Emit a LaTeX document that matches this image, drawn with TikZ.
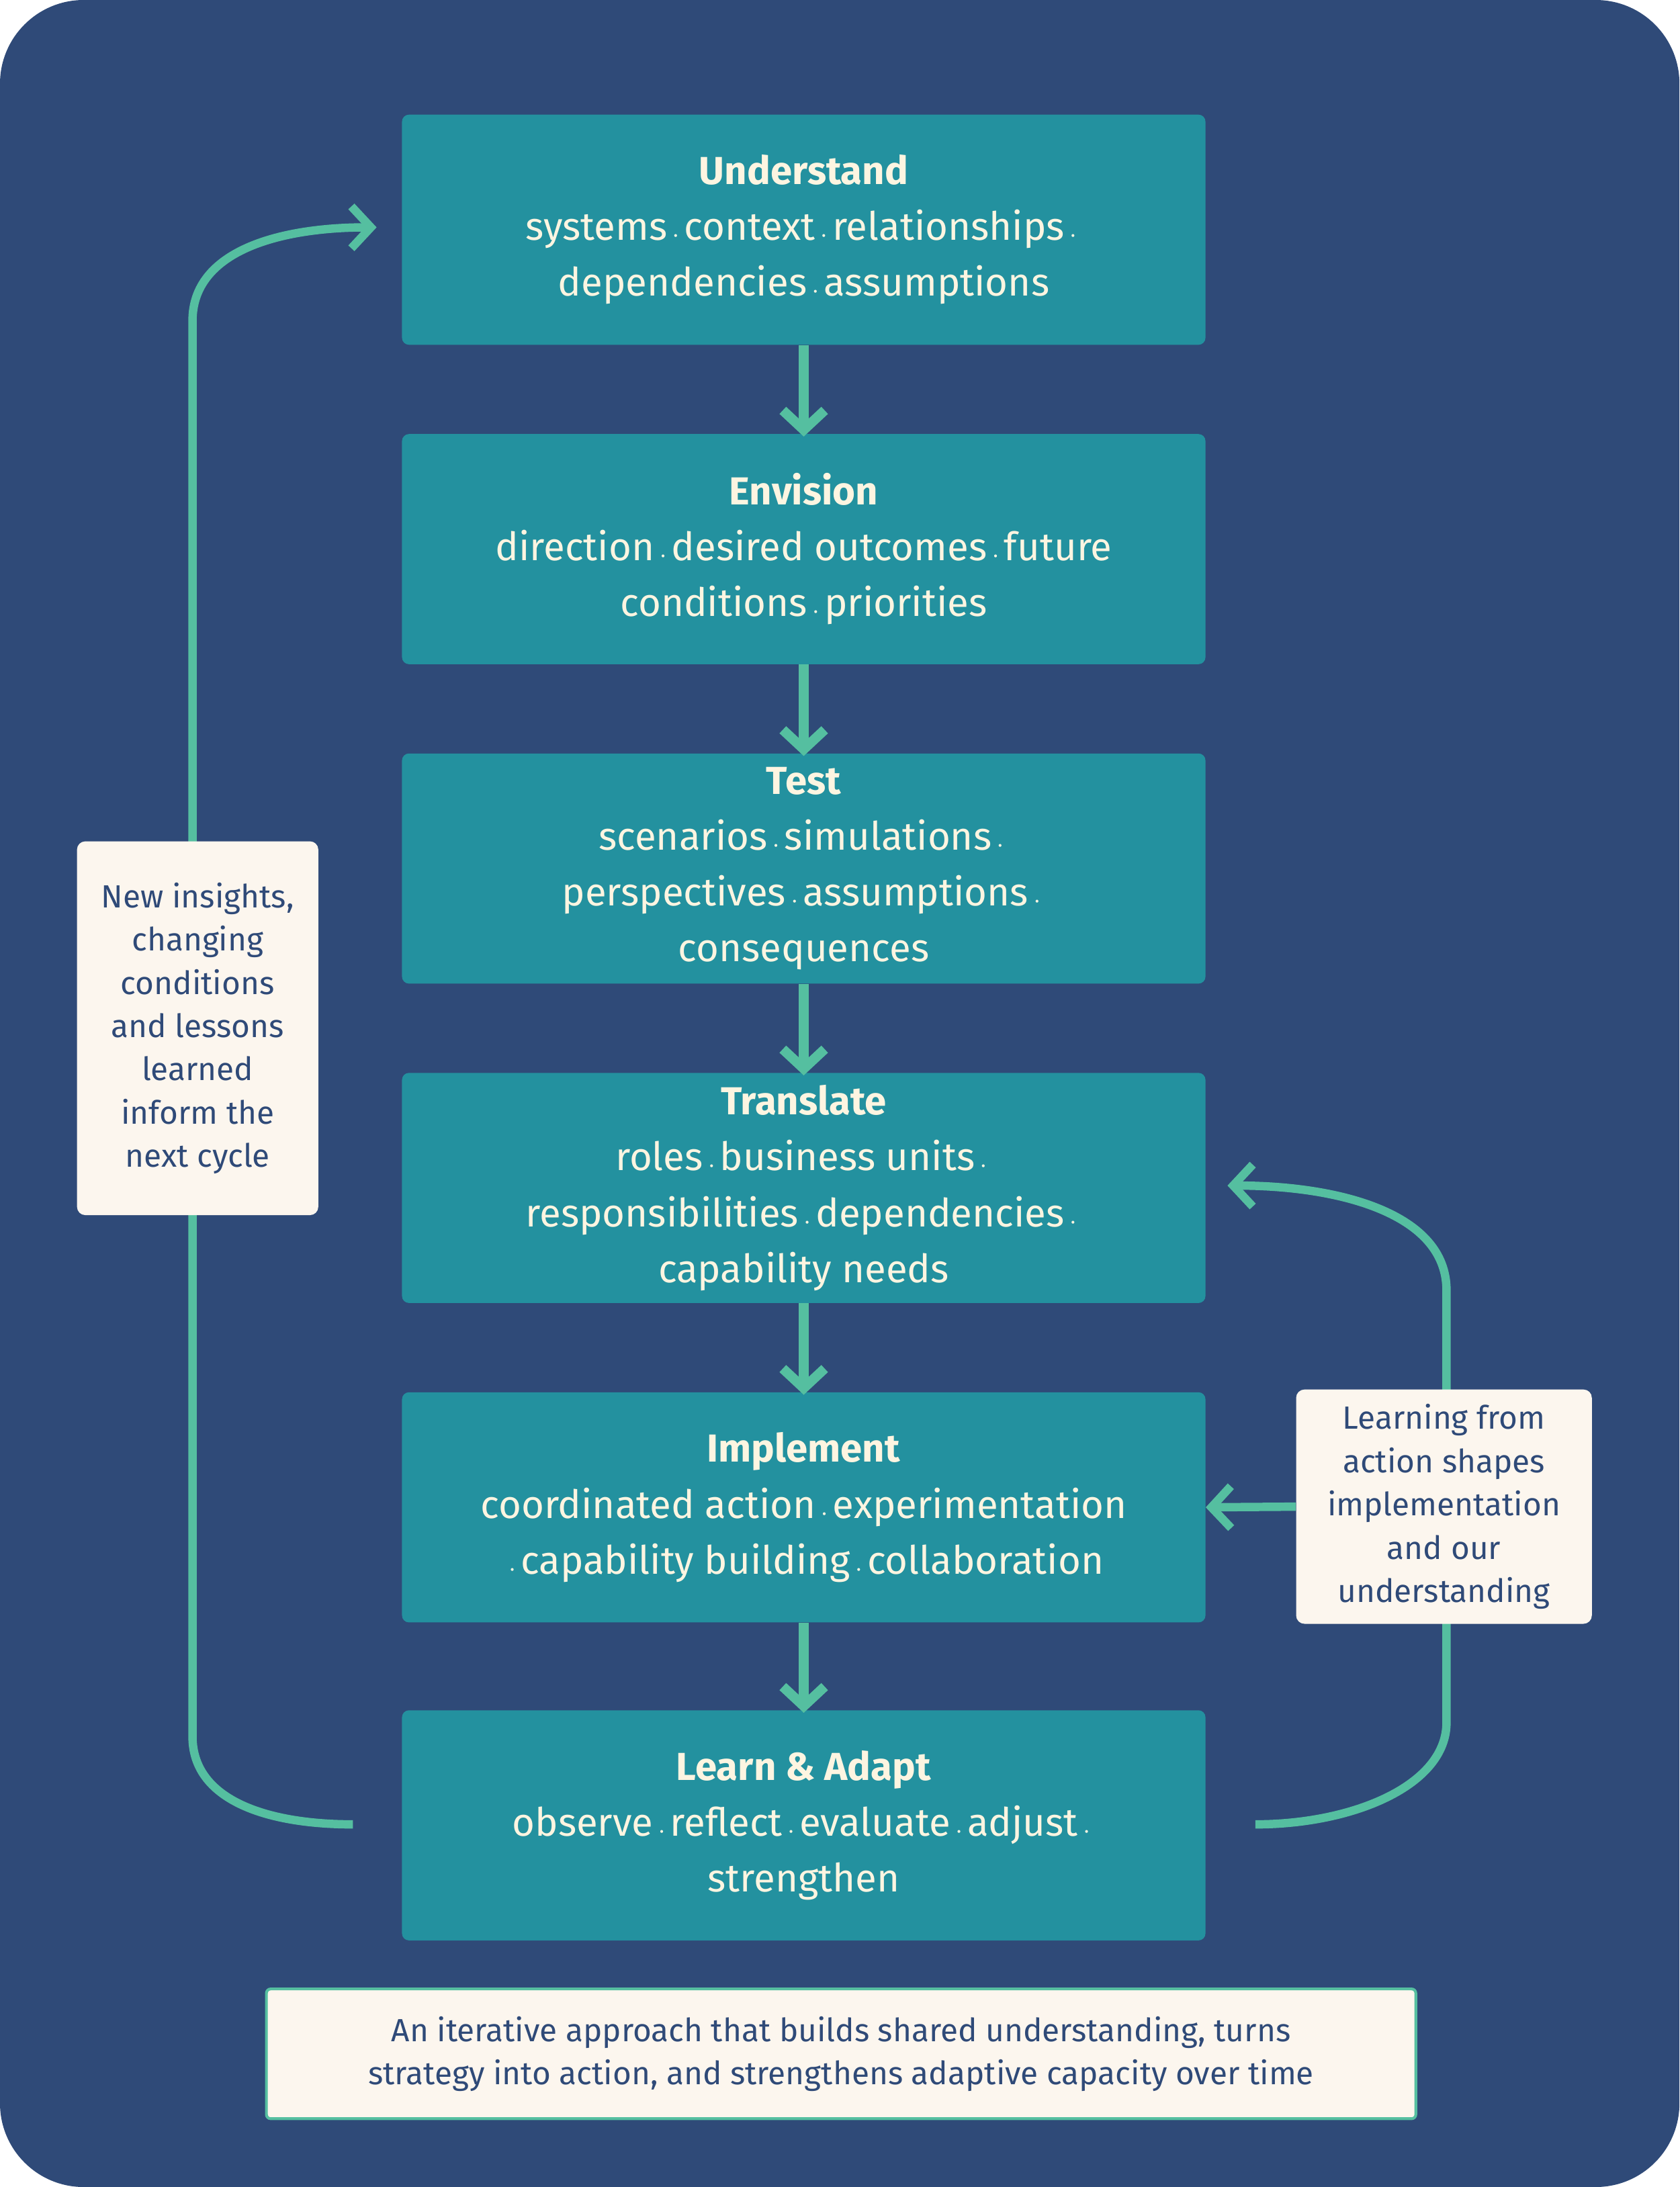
\documentclass[tikz,border=0pt]{standalone}
\usepackage{fontspec}
\setmainfont{Fira Sans}
\usetikzlibrary{arrows.meta}
\definecolor{bg}{HTML}{2F4A78}
\definecolor{boxc}{HTML}{23919F}
\definecolor{arr}{HTML}{55BFA0}
\definecolor{cream}{HTML}{FDF5E1}
\definecolor{note}{HTML}{FCF6EE}
\definecolor{ntext}{HTML}{2F4A78}
\newcommand{\bu}{\,{\small\textbullet}\,}
\tikzset{
 stage/.style={fill=boxc,rounded corners=5pt,minimum width=576pt,minimum height=165pt,inner sep=0pt,align=center,text=cream,font=\fontsize{28}{40}\selectfont,anchor=north west},
 notebox/.style={fill=note,rounded corners=6pt,inner sep=0pt,align=center,text=ntext,font=\fontsize{23}{31}\selectfont,anchor=north west},
 flow/.style={arr,line width=7pt,-{Straight Barb[length=14pt,width=30pt,line width=7pt]}},
 loop/.style={arr,line width=6pt,-{Straight Barb[length=14pt,width=30pt,line width=6pt]}}
}
\begin{document}
\begin{tikzpicture}[x=1pt,y=-1pt]
\fill[bg,rounded corners=60pt] (0,0) rectangle (1204,1568);
\useasboundingbox (0,0) rectangle (1204,1568);
\node[stage] (u) at (288,82) {\textbf{Understand}\\systems\bu context\bu relationships\bu\\dependencies\bu assumptions};
\node[stage] (e) at (288,311) {\textbf{Envision}\\direction\bu desired outcomes\bu future\\conditions\bu priorities};
\node[stage] (t) at (288,540) {\textbf{Test}\\scenarios\bu simulations\bu\\perspectives\bu assumptions\bu\\consequences};
\node[stage] (tr) at (288,769) {\textbf{Translate}\\roles\bu business units\bu\\responsibilities\bu dependencies\bu\\capability needs};
\node[stage] (i) at (288,998) {\textbf{Implement}\\coordinated action\bu experimentation\\\bu capability building\bu collaboration};
\node[stage] (l) at (288,1226) {\textbf{Learn \& Adapt}\\observe\bu reflect\bu evaluate\bu adjust\bu\\strengthen};
\foreach \a/\b in {u/e,e/t,t/tr,tr/i,i/l}
  \draw[flow] (\a.south) -- ([yshift=-2pt]\b.north);
\coordinate (ls) at (253,1308);
\coordinate (le) at (270,163);
\draw[loop] (ls) .. controls (190,1308) and (138,1290) .. (138,1245) -- (138,230) .. controls (138,180) and (200,163) .. (le);
\coordinate (rs) at (900,1308);
\coordinate (re) at (880,850);
\draw[loop] (rs) .. controls (970,1308) and (1037,1280) .. (1037,1235) -- (1037,925) .. controls (1037,870) and (960,850) .. (re);
\node[notebox,minimum width=173pt,minimum height=268pt] (n1) at (55,603) {New insights,\\changing\\conditions\\and lessons\\learned\\inform the\\next cycle};
\node[notebox,minimum width=212pt,minimum height=168pt] (n2) at (929,996) {Learning from\\action shapes\\implementation\\and our\\understanding};
\draw[loop] (n2.west) -- (i.east);
\node[notebox,draw=arr,line width=2pt,rounded corners=3pt,minimum width=824pt,minimum height=93pt] (n3) at (190,1425) {An iterative approach that builds shared understanding, turns\\strategy into action, and strengthens adaptive capacity over time};
\end{tikzpicture}
\end{document}
